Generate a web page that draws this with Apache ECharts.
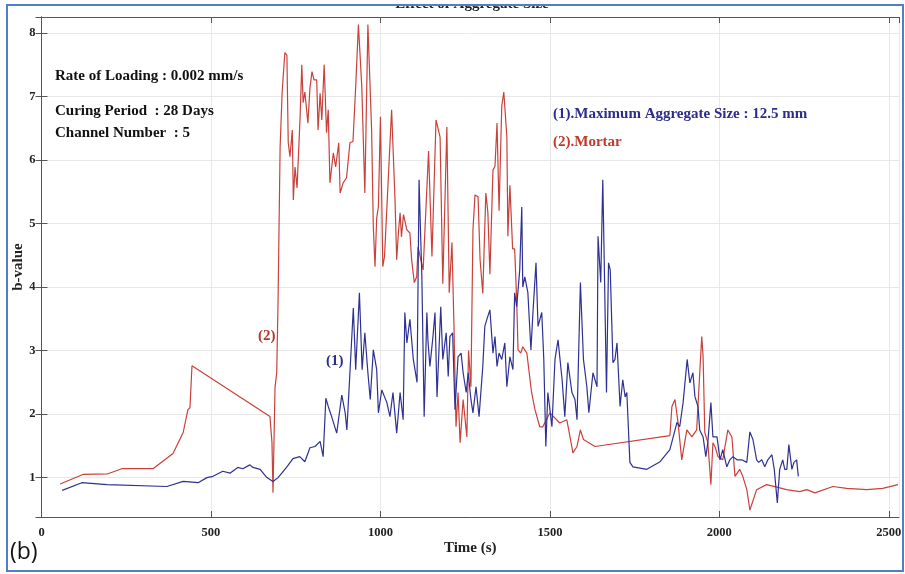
<!DOCTYPE html>
<html>
<head>
<meta charset="utf-8">
<script src="https://cdn.jsdelivr.net/npm/echarts@6/dist/echarts.min.js"></script>
<style>html,body{margin:0;padding:0;background:#fff}#c{width:905px;height:574px}</style>
</head>
<body>
<div id="c"></div>
<script>
// ---- data ----
const title = 'Effect of Aggregate Size';
const xTicks = [0, 500, 1000, 1500, 2000, 2500];
const yTicks = [1, 2, 3, 4, 5, 6, 7, 8];

// (2) Mortar
const tMortar = [55,122,196,237,329,388,418,432,438,444,674,680,683,689,694,698,704,710,718,724,728,733,740,743,748,754,763,768,772,777,786,792,798,804,812,816,822,827,834,841,846,851,861,868,877,881,890,900,910,919,927,935,945,954,963,974,979,984,989,994,1000,1007,1012,1022,1033,1043,1048,1053,1058,1062,1068,1078,1087,1092,1100,1107,1111,1119,1126,1142,1152,1164,1176,1184,1196,1203,1211,1217,1223,1229,1235,1244,1255,1260,1267,1273,1279,1288,1294,1302,1311,1317,1323,1332,1338,1344,1350,1358,1364,1373,1376,1382,1390,1396,1402,1406,1414,1420,1432,1446,1456,1470,1479,1500,1529,1550,1568,1580,1590,1599,1633,1854,1860,1869,1878,1889,1904,1919,1933,1948,1952,1957,1966,1975,1981,1987,1996,2010,2025,2037,2046,2060,2069,2081,2090,2110,2139,2170,2198,2237,2258,2282,2335,2376,2435,2482,2527];
const bMortar = [0.90,1.05,1.06,1.14,1.14,1.38,1.71,2.07,2.10,2.76,1.96,1.55,0.76,2.42,2.65,3.80,6.20,7.07,7.69,7.65,6.27,6.05,6.47,5.37,5.89,5.56,6.68,7.50,6.90,7.07,6.58,7.13,7.39,7.26,7.26,6.47,7.05,6.63,7.50,6.43,6.79,5.64,6.11,5.89,6.27,5.48,5.64,5.72,6.27,6.29,7.15,8.13,7.15,5.48,8.13,6.47,4.95,4.32,5.09,5.26,6.68,4.32,4.48,5.58,6.79,5.37,4.43,4.85,5.17,4.79,5.14,4.90,4.85,4.43,4.07,4.16,4.63,4.43,4.27,6.14,4.48,6.63,6.36,4.05,6.52,3.91,4.70,3.38,1.80,2.34,1.55,2.23,1.64,3.00,2.43,4.90,5.45,5.42,4.43,3.90,5.48,5.17,4.20,5.84,5.90,6.58,5.20,6.85,7.07,6.36,4.80,5.60,4.60,4.60,3.80,3.01,2.96,3.06,2.96,2.34,2.07,1.80,1.80,2.02,1.86,1.91,1.39,1.49,1.75,1.60,1.49,1.66,2.12,2.23,1.87,1.28,1.75,1.64,1.75,3.22,2.90,1.71,1.55,0.89,1.55,1.49,1.33,1.28,1.75,1.64,1.02,1.13,1.02,0.81,0.49,0.81,0.89,0.85,0.81,0.78,0.81,0.76,0.86,0.83,0.81,0.83,0.89];

// (1) Maximum Aggregate Size : 12.5 mm
const tAgg = [61,119,193,370,418,462,488,506,535,556,579,594,615,624,645,665,683,698,724,742,762,777,792,807,822,831,839,846,856,871,886,896,901,910,920,927,938,946,954,963,970,979,989,994,1004,1019,1028,1037,1048,1058,1067,1072,1078,1087,1097,1108,1114,1119,1122,1129,1137,1140,1146,1155,1161,1167,1178,1184,1194,1200,1205,1213,1220,1229,1238,1244,1253,1259,1267,1273,1282,1291,1302,1308,1314,1323,1332,1338,1344,1350,1358,1367,1373,1382,1391,1396,1402,1411,1417,1420,1426,1435,1444,1450,1459,1465,1476,1482,1488,1494,1506,1515,1524,1536,1544,1553,1565,1574,1580,1590,1599,1609,1615,1627,1639,1642,1650,1656,1659,1667,1673,1678,1686,1692,1698,1707,1715,1722,1727,1736,1745,1786,1825,1854,1875,1883,1893,1905,1913,1922,1928,1937,1942,1952,1960,1966,1975,1981,1993,2002,2010,2022,2031,2040,2052,2066,2081,2090,2099,2110,2116,2125,2134,2143,2155,2162,2171,2178,2187,2193,2199,2205,2214,2220,2228,2233];
const bAgg = [0.80,0.92,0.89,0.86,0.94,0.92,1.00,1.02,1.10,1.07,1.16,1.14,1.20,1.16,1.13,1.00,0.94,1.00,1.17,1.30,1.33,1.25,1.47,1.49,1.57,1.33,2.25,2.12,1.96,1.70,2.30,2.02,1.75,2.65,3.67,2.70,3.91,2.70,3.28,2.65,2.23,3.01,2.70,2.02,2.38,2.18,1.96,2.34,1.70,2.34,1.91,3.60,3.12,3.49,2.86,2.50,5.69,4.74,4.22,1.96,3.60,3.17,2.75,3.22,3.60,2.27,3.69,2.86,3.28,2.59,3.22,3.28,2.07,2.90,2.96,2.65,2.34,2.65,2.23,2.02,2.43,1.96,2.75,3.38,3.49,3.64,2.96,3.22,2.75,2.96,2.86,3.12,2.43,2.90,2.70,3.91,3.69,4.27,5.26,4.00,4.16,3.91,3.01,3.60,4.38,3.38,3.60,2.86,1.49,2.34,1.80,2.86,3.17,2.54,1.96,2.81,2.34,2.23,1.91,4.07,2.86,2.43,2.02,2.65,2.43,4.80,4.07,5.69,4.80,2.34,4.38,4.27,2.81,2.86,3.12,2.12,2.54,2.27,2.34,1.24,1.17,1.13,1.25,1.44,1.87,1.80,2.18,2.86,2.49,2.65,2.27,2.12,1.75,1.64,1.33,1.55,2.18,1.64,1.64,1.28,1.44,1.17,1.28,1.33,1.28,1.28,1.24,1.72,1.60,1.28,1.24,1.28,1.17,1.28,1.36,1.13,0.60,1.13,1.28,1.13,1.13,1.52,1.13,1.24,1.28,1.02];

const infoLines = ['Rate of Loading : 0.002 mm/s', 'Curing Period  : 28 Days', 'Channel Number  : 5'];
const legendAgg = '(1).Maximum Aggregate Size : 12.5 mm';
const legendMortar = '(2).Mortar';

// ---- chart ----
const RED = '#c9413a', BLUE = '#2e3192';
const SERIF = '"Liberation Serif", "DejaVu Serif", serif';
const pairs = (t, v) => t.map((x, i) => [x, v[i]]);
const X_MIN = 0, X_MAX = 2530, Y_MIN = 0.38, Y_MAX = 8.25;

const chart = echarts.init(document.getElementById('c'), null, {renderer: 'canvas'});
const axisLineStyle = {color: '#555', width: 1};
const labelStyle = {fontFamily: SERIF, fontWeight: 'bold', fontSize: 12.5, color: '#222'};

chart.setOption({
  backgroundColor: '#fff',
  animation: false,
  grid: {left: 41.5, right: 6, top: 17, bottom: 57, containLabel: false, outerBoundsMode: 'none'},
  xAxis: [
    {type: 'value', position: 'bottom', min: X_MIN, max: X_MAX, interval: 500,
     axisLine: {show: true, lineStyle: axisLineStyle},
     axisTick: {show: true, inside: true, length: 6, lineStyle: axisLineStyle},
     axisLabel: Object.assign({margin: 9, showMaxLabel: false,
       formatter: v => xTicks.includes(v) ? String(v) : ''}, labelStyle),
     splitLine: {show: true, lineStyle: {color: '#e8e8e8', width: 1}},
     name: 'Time (s)', nameLocation: 'middle', nameGap: 24, nameMoveOverlap: false,
     nameTextStyle: {fontFamily: SERIF, fontWeight: 'bold', fontSize: 15, color: '#222'}},
    {type: 'value', position: 'top', min: X_MIN, max: X_MAX, interval: 500,
     axisLine: {show: true, lineStyle: axisLineStyle},
     axisTick: {show: true, inside: true, length: 6, lineStyle: axisLineStyle},
     axisLabel: {show: false}, splitLine: {show: false}}
  ],
  yAxis: [
    {type: 'value', position: 'left', min: Y_MIN, max: Y_MAX, splitNumber: 8,
     axisLine: {show: true, lineStyle: axisLineStyle},
     axisTick: {show: true, inside: true, length: 6, lineStyle: axisLineStyle},
     axisLabel: Object.assign({margin: 6, showMinLabel: false, showMaxLabel: false,
       formatter: v => yTicks.includes(v) ? String(v) : ''}, labelStyle),
     splitLine: {show: true, lineStyle: {color: '#e8e8e8', width: 1}},
     name: 'b-value', nameLocation: 'middle', nameGap: 16, nameMoveOverlap: false,
     nameTextStyle: {fontFamily: SERIF, fontWeight: 'bold', fontSize: 15, color: '#222'}},
    {type: 'value', position: 'right', min: Y_MIN, max: Y_MAX, splitNumber: 8,
     axisLine: {show: true, lineStyle: axisLineStyle},
     axisTick: {show: true, inside: true, length: 6, lineStyle: axisLineStyle},
     axisLabel: {show: false}, splitLine: {show: false}}
  ],
  series: [
    {name: legendMortar, type: 'line', data: pairs(tMortar, bMortar), showSymbol: false,
     lineStyle: {color: RED, width: 1.2}, itemStyle: {color: RED}, z: 2},
    {name: legendAgg, type: 'line', data: pairs(tAgg, bAgg), showSymbol: false,
     lineStyle: {color: BLUE, width: 1.2}, itemStyle: {color: BLUE}, z: 3}
  ],
  graphic: [
    {type: 'text', x: 472, y: -3, z: 10,
     style: {text: title, font: 'bold 15px ' + SERIF, fill: '#222', textAlign: 'center'}},
    {type: 'rect', shape: {x: 0, y: 0, width: 905, height: 5}, style: {fill: '#fff'}, z: 11},
    {type: 'rect', shape: {x: 7, y: 5, width: 896, height: 566},
     style: {fill: null, stroke: '#4f7fc8', lineWidth: 2}, z: 12},
    {type: 'text', x: 55, y: 69, z: 10, style: {text: infoLines[0], font: 'bold 15px ' + SERIF, fill: '#111'}},
    {type: 'text', x: 55, y: 104, z: 10, style: {text: infoLines[1], font: 'bold 15px ' + SERIF, fill: '#111'}},
    {type: 'text', x: 55, y: 126, z: 10, style: {text: infoLines[2], font: 'bold 15px ' + SERIF, fill: '#111'}},
    {type: 'text', x: 553, y: 107, z: 10, style: {text: legendAgg, font: 'bold 15px ' + SERIF, fill: '#2b2c8c'}},
    {type: 'text', x: 553, y: 135, z: 10, style: {text: legendMortar, font: 'bold 15px ' + SERIF, fill: '#c0392b'}},
    {type: 'text', x: 258, y: 329, z: 10, style: {text: '(2)', font: 'bold 15px ' + SERIF, fill: '#b03a2e'}},
    {type: 'text', x: 326, y: 354, z: 10, style: {text: '(1)', font: 'bold 15px ' + SERIF, fill: '#2b2c8c'}},
    {type: 'text', x: 10, y: 541, z: 10, style: {text: '(b)', font: '23px "Open Sans", "Liberation Sans", sans-serif', fill: '#111'}}
  ]
});
</script>
</body>
</html>
